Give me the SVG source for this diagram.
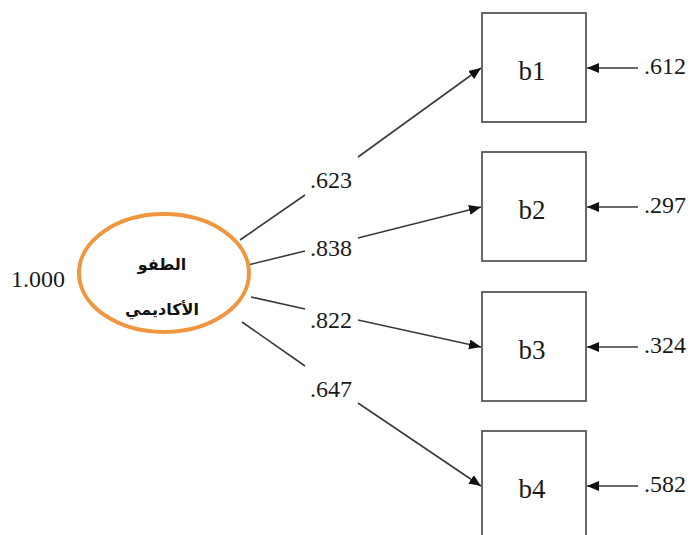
<svg xmlns="http://www.w3.org/2000/svg" width="693" height="535" viewBox="0 0 693 535">
<style>
.box{fill:#fff;stroke:#444;stroke-width:1.6}
.ln{stroke:#3a3a3a;stroke-width:1.6;fill:none}
.num{font-family:"Liberation Serif","Times New Roman",serif;font-size:24px;fill:#1a1a1a}
.lbl{font-family:"Liberation Serif","Times New Roman",serif;font-size:24px;fill:#1a1a1a;text-anchor:middle}
.bl{font-family:"Liberation Serif","Times New Roman",serif;font-size:27px;fill:#1a1a1a;text-anchor:middle}
.ar{font-family:"DejaVu Sans","Noto Sans",sans-serif;font-size:16px;font-weight:bold;fill:#111;text-anchor:middle}
</style>
<defs>
<marker id="ah" viewBox="0 0 12 10" refX="12" refY="5" markerWidth="12" markerHeight="10" markerUnits="userSpaceOnUse" orient="auto">
<path d="M0,0 L12,5 L0,10 Z" fill="#111"/>
</marker>
</defs>
<rect width="693" height="535" fill="#fff"/>
<g id="connectors">
<line class="ln" x1="240" y1="240" x2="305" y2="195"/>
<line class="ln" x1="358" y1="157" x2="481" y2="68" marker-end="url(#ah)"/>
<line class="ln" x1="248" y1="265" x2="305" y2="251"/>
<line class="ln" x1="358" y1="238" x2="481" y2="207" marker-end="url(#ah)"/>
<line class="ln" x1="251" y1="297" x2="305" y2="309"/>
<line class="ln" x1="358" y1="320" x2="481" y2="347" marker-end="url(#ah)"/>
<line class="ln" x1="242" y1="322" x2="305" y2="366"/>
<line class="ln" x1="358" y1="403" x2="481" y2="486" marker-end="url(#ah)"/>
<line class="ln" x1="638" y1="68" x2="587" y2="68" marker-end="url(#ah)"/>
<line class="ln" x1="638" y1="207" x2="587" y2="207" marker-end="url(#ah)"/>
<line class="ln" x1="638" y1="347" x2="587" y2="347" marker-end="url(#ah)"/>
<line class="ln" x1="638" y1="486" x2="587" y2="486" marker-end="url(#ah)"/>
<text class="lbl" x="331" y="188">.623</text>
<text class="lbl" x="331" y="256">.838</text>
<text class="lbl" x="331" y="328">.822</text>
<text class="lbl" x="331" y="397">.647</text>
</g>
<g id="factor">
<ellipse cx="164" cy="273" rx="85" ry="59" fill="#fff" stroke="#F0963E" stroke-width="4"/>
<text class="ar" x="162" y="270" direction="rtl">الطفو</text>
<text class="ar" x="162" y="315" direction="rtl">الأكاديمي</text>
<text class="num" x="11" y="287">1.000</text>
</g>
<g id="b1">
<rect class="box" x="482" y="13" width="104" height="109"/>
<text class="bl" x="532" y="80">b1</text>
<text class="num" x="644" y="74">.612</text>
</g>
<g id="b2">
<rect class="box" x="482" y="152" width="104" height="109"/>
<text class="bl" x="532" y="219">b2</text>
<text class="num" x="644" y="213">.297</text>
</g>
<g id="b3">
<rect class="box" x="482" y="292" width="104" height="109"/>
<text class="bl" x="532" y="359">b3</text>
<text class="num" x="644" y="353">.324</text>
</g>
<g id="b4">
<rect class="box" x="482" y="431" width="104" height="109"/>
<text class="bl" x="532" y="498">b4</text>
<text class="num" x="644" y="492">.582</text>
</g>
</svg>
